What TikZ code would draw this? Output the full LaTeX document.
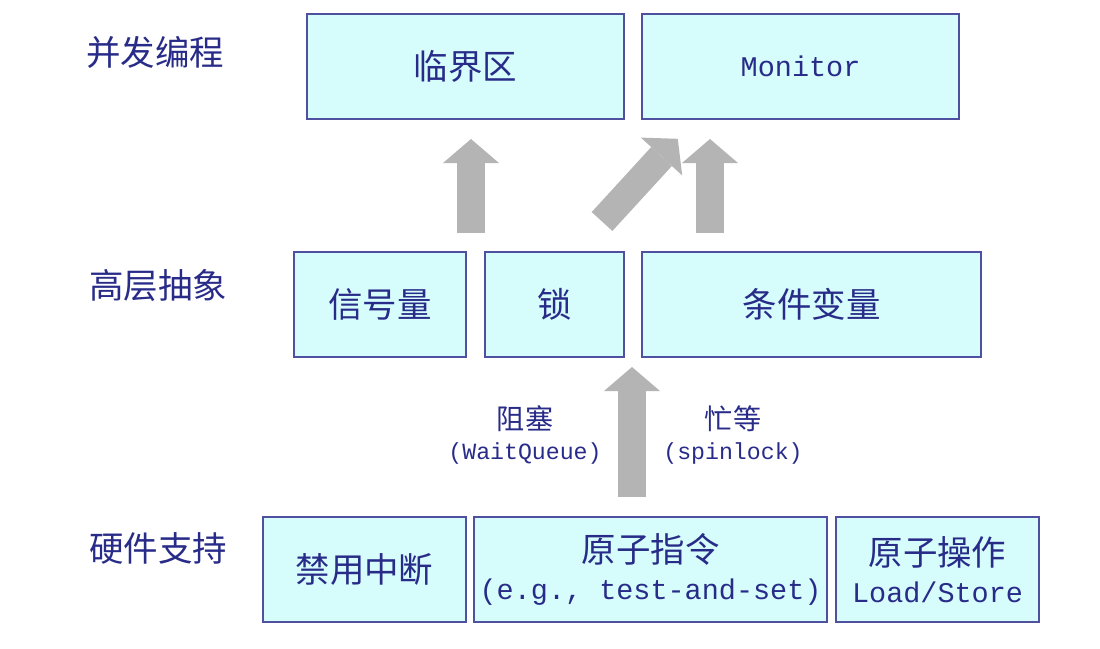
\documentclass[tikz,border=0pt]{standalone}
\usepackage{fontspec}
\setmonofont{Liberation Mono}
\newfontfamily\cjk{Noto Sans CJK SC}
\usetikzlibrary{arrows.meta}
\definecolor{navy}{RGB}{40,44,136}
\definecolor{boxline}{RGB}{80,80,160}
\definecolor{boxfill}{RGB}{214,252,252}
\definecolor{arrowgray}{RGB}{180,180,180}
\newcommand\mono[1]{{\ttfamily\fontsize{8.1}{10.4}\selectfont #1}}
\newcommand\monosmall[1]{{\ttfamily\fontsize{6.6}{8.6}\selectfont #1}}

\begin{document}
\begin{tikzpicture}[x=0.01cm, y=-0.01cm,
box/.style = {draw=boxline, line width=0.55pt, fill=boxfill, text=navy,
  inner sep=0pt, anchor=north west, align=center, minimum height=1.05cm,
  font=\cjk\fontsize{9.8}{10.4}\selectfont},
layer/.style = {text=navy, font=\cjk\fontsize{9.8}{10.4}\selectfont},
hint/.style = {text=navy, align=center, font=\cjk\fontsize{8}{8.6}\selectfont},
uparrow/.style = {draw=arrowgray, line width=0.28cm,
  -{Triangle[width=0.56cm, length=0.24cm, line width=0pt]}}]
\path[use as bounding box, fill=white] (0,0) rectangle (1100,648);

\node[layer] (bingfa) at (155,52) {并发编程};
\node[layer] (gaoceng) at (158,285) {高层抽象};
\node[layer] (yingjian) at (158,548) {硬件支持};

\node[box, minimum width=3.17cm] (linjie) at (306,13) {临界区};
\node[box, minimum width=3.17cm] (monitor) at (641,13) {\mono{Monitor}};
\node[box, minimum width=1.72cm] (xinhao) at (293,251) {信号量};
\node[box, minimum width=1.39cm] (suo) at (484,251) {锁};
\node[box, minimum width=3.39cm] (tiaojian) at (641,251) {条件变量};
\node[box, minimum width=2.03cm] (jinyong) at (262,516) {禁用中断};
\node[box, minimum width=3.53cm] (zhiling) at (473,516) {原子指令\\\mono{(e.g., test-and-set)}};
\node[box, minimum width=2.03cm] (caozuo) at (835,516) {原子操作\\\mono{Load/Store}};

\node[hint] (zuse) at (525,435) {阻塞\\\monosmall{(WaitQueue)}};
\node[hint] (mangdeng) at (733,435) {忙等\\\monosmall{(spinlock)}};

\coordinate (c1) at (471,0);
\coordinate (c3) at (710,0);
\coordinate (c4) at (632,0);
\coordinate (c5) at (575,0);
\coordinate (c6) at (695,0);

\draw[uparrow, shorten <=0.18cm, shorten >=0.19cm] (xinhao.north -| c1) -- (linjie.south -| c1);
\draw[uparrow, shorten <=0.40cm, shorten >=0.255cm] (suo.north -| c5) -- (monitor.south -| c6);
\draw[uparrow, shorten <=0.18cm, shorten >=0.19cm] (tiaojian.north -| c3) -- (monitor.south -| c3);
\draw[uparrow, shorten <=0.19cm, shorten >=0.09cm] (zhiling.north -| c4) -- (suo.south -| c4);
\end{tikzpicture}
\end{document}
